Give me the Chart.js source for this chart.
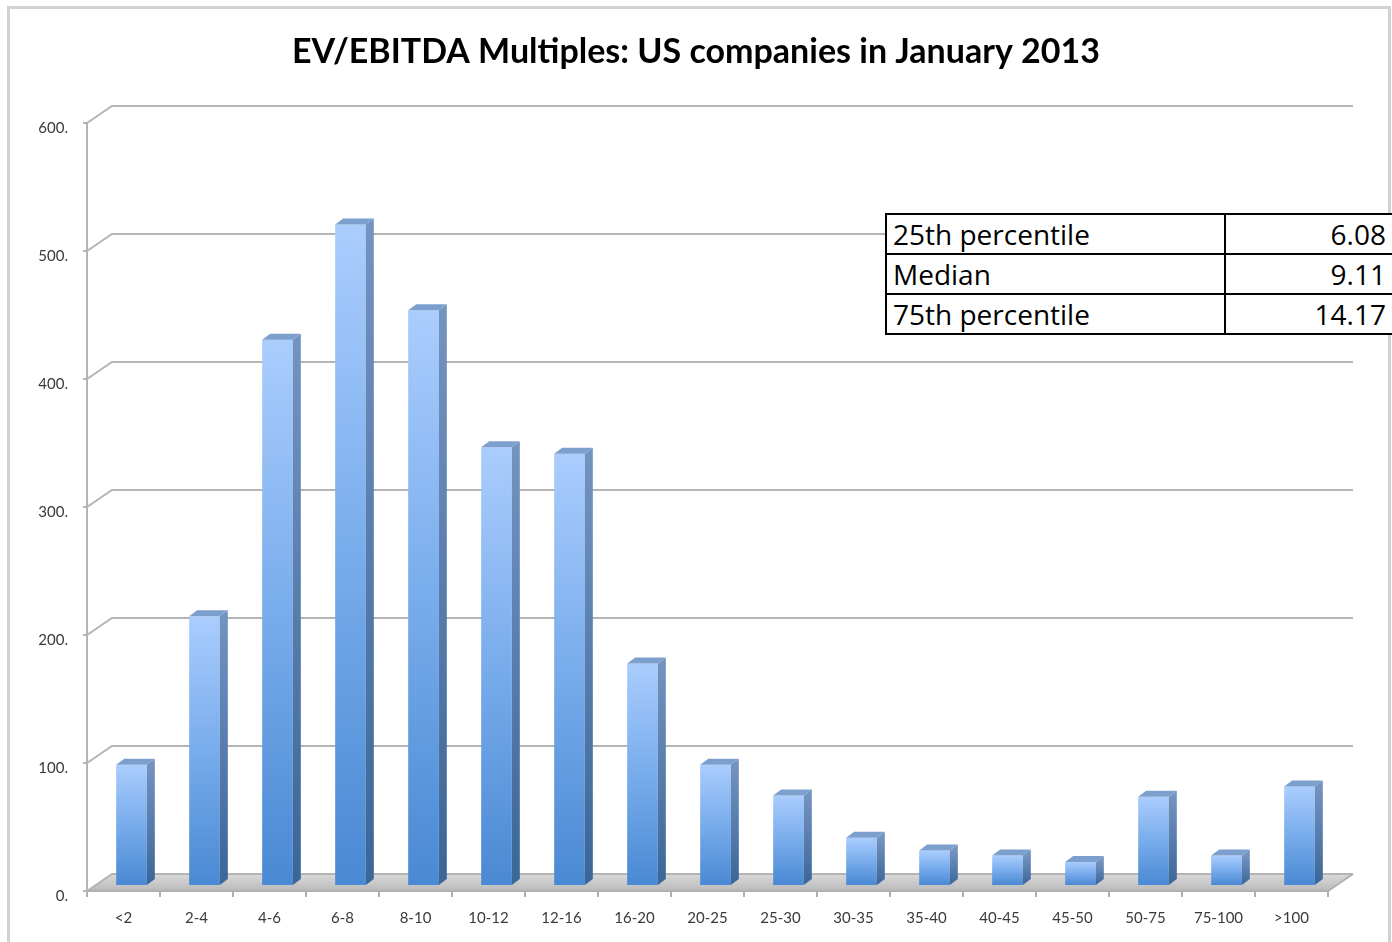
<!DOCTYPE html>
<html>
<head>
<meta charset="utf-8">
<title>EV/EBITDA Multiples</title>
<script src="https://cdn.jsdelivr.net/npm/chart.js@4.4.1/dist/chart.umd.min.js"></script>
<style>
  html, body { margin: 0; padding: 0; background: #fff; overflow: hidden; }
  #wrap { position: relative; width: 1392px; height: 942px; overflow: hidden; }
  #frame { position: absolute; left: 7px; top: 6px; width: 1384px; height: 960px;
           border: 3px solid #d2d2d2; border-bottom: none; box-sizing: border-box; }
  canvas { position: absolute; left: 0; top: 0; }
  #stats { position: absolute; left: 885px; top: 213px; width: 515px; table-layout: fixed;
           border-collapse: collapse; background: #fff;
           font-family: "Open Sans", sans-serif; font-size: 28px; color: #000; }
  #stats td { border: 2px solid #000; height: 38px; line-height: 38px; padding: 0 4px 0 6px;
              white-space: nowrap; box-sizing: border-box; }
  #stats td.k { width: 339px; }
  #stats td.v { text-align: right; padding-right: 12px; }
</style>
</head>
<body>
<div id="wrap">
  <div id="frame"></div>
  <canvas id="myChart" width="1392" height="942"></canvas>
  <table id="stats"></table>
</div>
<script>
var chartTitle = 'EV/EBITDA Multiples: US companies in January 2013';
var categories = ['<2', '2-4', '4-6', '6-8', '8-10', '10-12', '12-16', '16-20', '20-25',
                  '25-30', '30-35', '35-40', '40-45', '45-50', '50-75', '75-100', '>100'];
var counts = [94, 210, 426, 516, 449, 342, 337, 173, 94, 70, 37, 27, 23, 18, 69, 23, 77];
var statLabels = ['25th percentile', 'Median', '75th percentile'];
var statValues = ['6.08', '9.11', '14.17'];

// percentile box
var table = document.getElementById('stats');
for (var i = 0; i < statLabels.length; i++) {
    var tr = document.createElement('tr');
    var k = document.createElement('td'); k.className = 'k'; k.textContent = statLabels[i];
    var v = document.createElement('td'); v.className = 'v'; v.textContent = statValues[i];
    tr.appendChild(k); tr.appendChild(v);
    table.appendChild(tr);
}

// fake 3d: bars sit in a middle plane, wall is behind, axis edge in front
var BAR_DX = 8, BAR_DY = 6;
var WALL = { dx: 17, dy: -11 };
var FRONT = { dx: -8, dy: 6 };

var box3d = {
    id: 'box3d',
    beforeDatasetsDraw: function(chart) {
        var ctx = chart.ctx, a = chart.chartArea, x = chart.scales.x, y = chart.scales.y;
        var y0 = y.getPixelForValue(0);
        ctx.save();

        // floor
        var g = ctx.createLinearGradient(0, y0 + WALL.dy, 0, y0 + FRONT.dy);
        g.addColorStop(0, '#d9d9d9');
        g.addColorStop(0.5, '#cacaca');
        g.addColorStop(1, '#b9b9b9');
        ctx.fillStyle = g;
        ctx.beginPath();
        ctx.moveTo(a.left + FRONT.dx, y0 + FRONT.dy);
        ctx.lineTo(a.right + FRONT.dx, y0 + FRONT.dy);
        ctx.lineTo(a.right + WALL.dx, y0 + WALL.dy);
        ctx.lineTo(a.left + WALL.dx, y0 + WALL.dy);
        ctx.closePath();
        ctx.fill();

        // gridlines on the back wall, running into the side wall
        ctx.strokeStyle = '#b4b4b4';
        ctx.lineWidth = 2;
        y.ticks.forEach(function(t) {
            var py = y.getPixelForValue(t.value);
            ctx.beginPath();
            ctx.moveTo(a.left + FRONT.dx, py + FRONT.dy);
            ctx.lineTo(a.left + WALL.dx, py + WALL.dy);
            ctx.lineTo(a.right + WALL.dx, py + WALL.dy);
            ctx.stroke();
            // little tick on the value axis
            ctx.beginPath();
            ctx.moveTo(a.left + FRONT.dx - 4, py + FRONT.dy);
            ctx.lineTo(a.left + FRONT.dx, py + FRONT.dy);
            ctx.stroke();
        });

        // value axis line
        ctx.beginPath();
        ctx.moveTo(a.left + FRONT.dx, y.getPixelForValue(y.max) + FRONT.dy);
        ctx.lineTo(a.left + FRONT.dx, y0 + FRONT.dy);
        ctx.stroke();

        // front edge of the floor + right edge
        ctx.strokeStyle = '#b0b0b0';
        ctx.beginPath();
        ctx.moveTo(a.left + FRONT.dx, y0 + FRONT.dy);
        ctx.lineTo(a.right + FRONT.dx, y0 + FRONT.dy);
        ctx.lineTo(a.right + WALL.dx, y0 + WALL.dy);
        ctx.stroke();

        // category ticks under the floor
        for (var i = 0; i <= categories.length; i++) {
            var px = x.getPixelForValue(i - 0.5) + FRONT.dx;
            ctx.beginPath();
            ctx.moveTo(px, y0 + FRONT.dy);
            ctx.lineTo(px, y0 + FRONT.dy + 6);
            ctx.stroke();
        }
        ctx.restore();
    },
    afterDatasetsDraw: function(chart) {
        var ctx = chart.ctx;
        ctx.save();
        chart.getDatasetMeta(0).data.forEach(function(bar) {
            var p = bar.getProps(['x', 'y', 'base', 'width'], true);
            var l = p.x - p.width / 2, r = p.x + p.width / 2;
            // right side
            var sg = ctx.createLinearGradient(0, p.y, 0, p.base);
            sg.addColorStop(0, '#7393c0');
            sg.addColorStop(1, '#3b6698');
            ctx.fillStyle = sg;
            ctx.beginPath();
            ctx.moveTo(r, p.y);
            ctx.lineTo(r + BAR_DX, p.y - BAR_DY);
            ctx.lineTo(r + BAR_DX, p.base - BAR_DY);
            ctx.lineTo(r, p.base);
            ctx.closePath();
            ctx.fill();
            // top
            ctx.fillStyle = '#7d9fcd';
            ctx.beginPath();
            ctx.moveTo(l, p.y);
            ctx.lineTo(l + BAR_DX, p.y - BAR_DY);
            ctx.lineTo(r + BAR_DX, p.y - BAR_DY);
            ctx.lineTo(r, p.y);
            ctx.closePath();
            ctx.fill();
        });
        ctx.restore();
    }
};

var tickFont = { family: 'Lato', size: 15 };

var ctx = document.getElementById('myChart').getContext('2d');
var chart = new Chart(ctx, {
    type: 'bar',
    data: {
        labels: categories,
        datasets: [{
            data: counts,
            borderWidth: 0,
            categoryPercentage: 1,
            barPercentage: 0.42,
            backgroundColor: function(c) {
                var a = c.chart.chartArea;
                if (!a || c.type !== 'data') return '#6fa6e8';
                var top = c.chart.scales.y.getPixelForValue(c.raw);
                var g = c.chart.ctx.createLinearGradient(0, top, 0, a.bottom);
                g.addColorStop(0, '#aacdfd');
                g.addColorStop(0.5, '#78acec');
                g.addColorStop(1, '#4a89d3');
                return g;
            }
        }]
    },
    options: {
        responsive: false,
        animation: false,
        layout: { padding: 0 },
        plugins: {
            legend: { display: false },
            tooltip: { enabled: false },
            title: {
                display: true,
                text: chartTitle,
                color: '#000',
                font: { family: 'Lato', size: 34, weight: 'bold', lineHeight: 1 },
                padding: { top: 35, bottom: 48 }
            }
        },
        scales: {
            x: {
                grid: { display: false, drawTicks: false },
                border: { display: false },
                ticks: { autoSkip: false, maxRotation: 0, labelOffset: -8, padding: 24,
                         font: tickFont, color: '#3a3a3a' },
                afterFit: function(s) { s.height = 57; }
            },
            y: {
                min: 0,
                max: 600,
                grid: { display: false, drawTicks: false },
                border: { display: false },
                ticks: { stepSize: 100, padding: 27, labelOffset: 11, font: tickFont, color: '#3a3a3a',
                         callback: function(v) { return v + '.'; } },
                afterFit: function(s) { s.width = 95; }
            },
            // empty strip on the right for the wall depth
            y2: {
                position: 'right',
                grid: { display: false, drawTicks: false },
                border: { display: false },
                ticks: { display: false },
                afterFit: function(s) { s.width = 56; }
            }
        }
    },
    plugins: [box3d]
});
</script>
</body>
</html>
